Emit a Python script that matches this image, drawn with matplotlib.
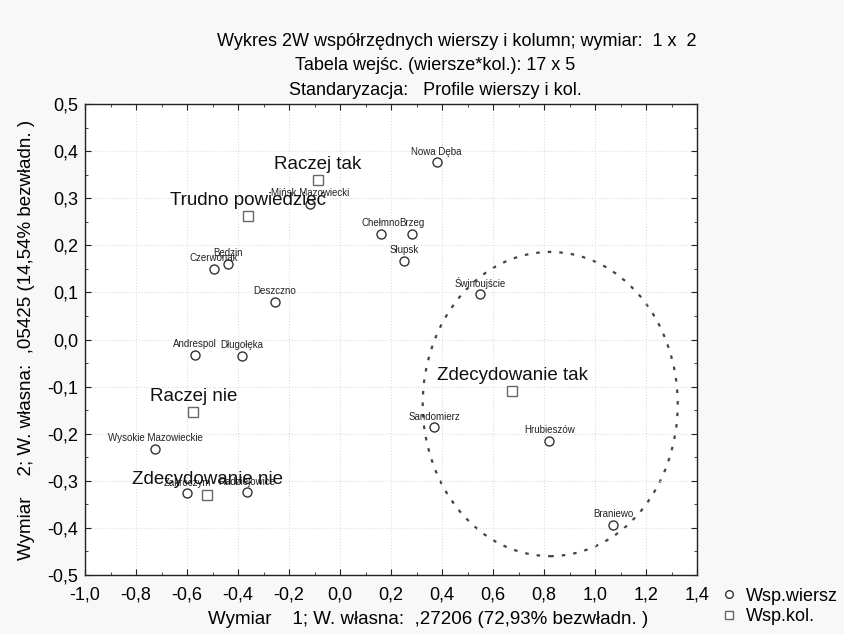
import matplotlib.pyplot as plt
from matplotlib.patches import Ellipse
from matplotlib.ticker import MultipleLocator, FuncFormatter

# Row coordinates (cities)
row_names = ['Nowa Dęba', 'Mińsk Mazowiecki', 'Chełmno', 'Brzeg', 'Słupsk', 'Będzin', 'Czerwonak',
             'Deszczno', 'Świnoujście', 'Andrespol', 'Długołęka', 'Wysokie Mazowieckie',
             'Zakroczym', 'Radziejowice', 'Sandomierz', 'Hrubieszów', 'Braniewo']
row_x = [0.379, -0.118, 0.161, 0.282, 0.250, -0.439, -0.494,
         -0.256, 0.549, -0.569, -0.384, -0.725,
         -0.599, -0.366, 0.369, 0.820, 1.072]
row_y = [0.376, 0.288, 0.224, 0.224, 0.167, 0.161, 0.150,
         0.080, 0.096, -0.032, -0.035, -0.232,
         -0.326, -0.324, -0.186, -0.215, -0.393]

# Column coordinates (answers)
col_names = ['Raczej tak', 'Trudno powiedzieć', 'Raczej nie', 'Zdecydowanie nie', 'Zdecydowanie tak']
col_x = [-0.087, -0.360, -0.575, -0.520, 0.675]
col_y = [0.339, 0.262, -0.153, -0.331, -0.109]

# dotted ellipse marking the group on the right
ell_center = (0.824, -0.137)
ell_width = 1.0
ell_height = 0.646

plt.rcParams['font.family'] = ['Liberation Sans', 'DejaVu Sans']

fig = plt.figure(figsize=(8.45, 6.34), dpi=100, facecolor='#f8f8f8')
ax = fig.add_axes([0.1006, 0.093, 0.7244, 0.743])
ax.set_facecolor('white')

ax.plot(row_x, row_y, 'o', markersize=6.5, markerfacecolor='white', markeredgecolor='#333333',
        markeredgewidth=1.0, linestyle='none', label='Wsp.wiersz', zorder=3)
ax.plot(col_x, col_y, 's', markersize=6.5, markerfacecolor='white', markeredgecolor='#666666',
        markeredgewidth=1.0, linestyle='none', label='Wsp.kol.', zorder=3)

for name, x, y in zip(row_names, row_x, row_y):
    ax.annotate(name, (x, y), textcoords='offset points', xytext=(0, 4), ha='center', va='bottom',
                fontsize=7, color='#222222', zorder=4)
for name, x, y in zip(col_names, col_x, col_y):
    ax.annotate(name, (x, y), textcoords='offset points', xytext=(0, 5), ha='center', va='bottom',
                fontsize=13.5, color='#111111', zorder=5)

ax.add_patch(Ellipse(ell_center, ell_width, ell_height, fill=False, edgecolor='#444444',
                     linewidth=1.6, linestyle=(0, (1.6, 3.6))))

ax.set_xlim(-1.0, 1.4)
ax.set_ylim(-0.5, 0.5)
ax.xaxis.set_major_locator(MultipleLocator(0.2))
ax.xaxis.set_minor_locator(MultipleLocator(0.1))
ax.yaxis.set_major_locator(MultipleLocator(0.1))
ax.yaxis.set_minor_locator(MultipleLocator(0.05))
comma = FuncFormatter(lambda v, p: f'{v:.1f}'.replace('.', ',').replace('-0,0', '0,0'))
ax.xaxis.set_major_formatter(comma)
ax.yaxis.set_major_formatter(comma)
ax.tick_params(which='both', direction='in', top=True, right=True, labelsize=13, color='#222222')
ax.tick_params(which='major', length=4)
ax.tick_params(which='minor', length=2.5)
ax.tick_params(axis='x', which='major', pad=8)
ax.tick_params(axis='y', which='major', pad=5)
ax.grid(True, which='major', color='#dddddd', linestyle=':', linewidth=0.8)
for s in ax.spines.values():
    s.set_color('#222222')
    s.set_linewidth(1.0)

ax.set_xlabel('Wymiar    1; W. własna:  ,27206 (72,93% bezwładn. )', fontsize=13.5)
ax.set_ylabel('Wymiar    2; W. własna:  ,05425 (14,54% bezwładn. )', fontsize=13.5, labelpad=9)
ax.xaxis.set_label_coords(0.56, -0.077)

fig.text(0.541, 0.935, 'Wykres 2W współrzędnych wierszy i kolumn; wymiar:  1 x  2',
         ha='center', va='center', fontsize=13)
fig.text(0.515, 0.896, 'Tabela wejśc. (wiersze*kol.): 17 x 5',
         ha='center', va='center', fontsize=13)
fig.text(0.515, 0.857, 'Standaryzacja:   Profile wierszy i kol.',
         ha='center', va='center', fontsize=13)

fig.legend(loc='lower left', bbox_to_anchor=(0.831, -0.012), frameon=False, fontsize=13,
           handletextpad=0.3, handlelength=1.2, labelspacing=0.2, markerscale=0.85)

fig.savefig('out.png', dpi=100, facecolor=fig.get_facecolor())
